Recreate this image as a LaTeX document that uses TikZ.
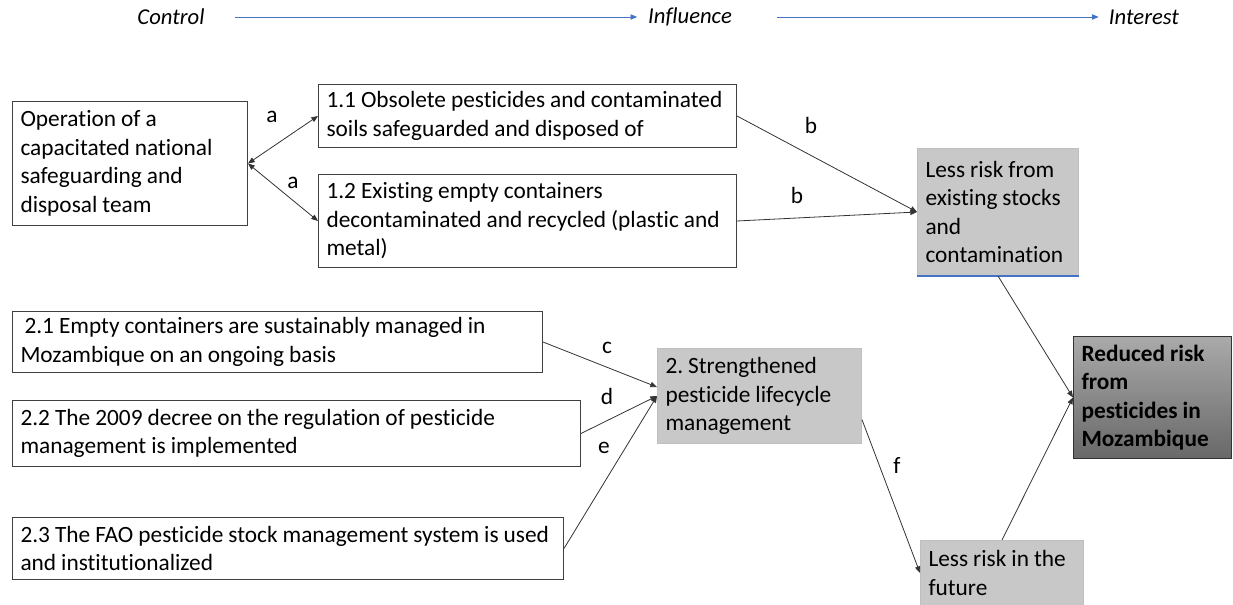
\documentclass[tikz,border=0pt]{standalone}
\usepackage{fontspec}
\setmainfont{Carlito}[RawFeature={-liga;-clig;-calt}]
\usepackage{tikz}
\usetikzlibrary{positioning}
\usetikzlibrary{arrows.meta}

\definecolor{flowblue}{RGB}{68,114,196}
\definecolor{boxgrey}{RGB}{200,200,200}
\definecolor{redtop}{RGB}{170,170,170}
\definecolor{redbot}{RGB}{104,104,104}

\newcommand\boxfont{\fontsize{17.5}{21.4}\selectfont\frenchspacing}

\tikzset{
  box/.style={draw=black!75, line width=0.75pt, anchor=north west, align=left,
    inner xsep=6pt, inner ysep=0pt, font=\boxfont,
    execute at begin node={\spaceskip=0.215em\relax}},
  greybox/.style={box, draw=black!25, fill=boxgrey},
  darkbox/.style={box, draw=black!80, top color=redtop, bottom color=redbot,
    font=\boxfont\bfseries},
  lbl/.style={inner sep=0pt, font=\boxfont},
  head/.style={inner sep=0pt, font=\fontsize{17}{20}\selectfont\itshape},
  link/.style={draw=black!80, line width=0.6pt, -{Triangle[length=5pt,width=4pt]}},
  flow/.style={draw=flowblue, line width=0.6pt, -{Triangle[length=5pt,width=4pt]}}
}

\begin{document}
\begin{tikzpicture}[x=0.75pt,y=0.75pt,yscale=-1,xscale=1]
\useasboundingbox (0,0) rectangle (1233,605);

% Text Node
\node[head] (ctrl) at (171,17) {Control};
% Text Node
\node[head] (infl) at (690,17) {Influence};
% Text Node
\node[head] (intr) at (1144,17) {Interest};

% Text Node
\node[box, minimum width=176.25pt, minimum height=93pt, text width=164.25pt] (op) at (12,101)
  {Operation of a\\capacitated national\\safeguarding and\\disposal team};
% Text Node
\node[box, minimum width=313.5pt, minimum height=47.25pt, text width=301.5pt] (o11) at (318,84)
  {1.1 Obsolete pesticides and contaminated\\soils safeguarded and disposed of};
% Text Node
\node[box, minimum width=313.5pt, minimum height=69.75pt, text width=301.5pt] (o12) at (318,174)
  {1.2 Existing empty containers\\decontaminated and recycled (plastic and\\metal)};
% Text Node
\node[greybox, minimum width=120.75pt, minimum height=95.25pt, text width=108.75pt] (stock) at (917,148)
  {Less risk from\\existing stocks\\and\\contamination};
\draw[flowblue, line width=0.9pt] (stock.south west) -- (stock.south east);

% Text Node
\node[box, minimum width=397.5pt, minimum height=45.75pt, text width=385.5pt] (o21) at (12,311)
  {\hspace{3pt}2.1 Empty containers are sustainably managed in\\Mozambique on an ongoing basis};
% Text Node
\node[box, minimum width=426pt, minimum height=49.5pt, text width=414pt] (o22) at (12,400)
  {2.2 The 2009 decree on the regulation of pesticide\\management is implemented};
% Text Node
\node[box, minimum width=413.25pt, minimum height=46.5pt, text width=401.25pt] (o23) at (12,517)
  {2.3 The FAO pesticide stock management system is used\\and institutionalized};
% Text Node
\node[greybox, minimum width=153pt, minimum height=71.25pt, text width=141pt] (life) at (657,348)
  {2. Strengthened\\pesticide lifecycle\\management};
% Text Node
\node[greybox, minimum width=122.25pt, minimum height=48.75pt, text width=110.25pt] (fut) at (920,540)
  {Less risk in the\\future};
% Text Node
\node[darkbox, minimum width=118.5pt, minimum height=91.5pt, text width=106.5pt] (risk) at (1073,336)
  {Reduced risk\\from\\pesticides in\\Mozambique};

% Connection
\draw[flow, shorten <=23pt, shorten >=8pt] (ctrl.east) -- (infl.west);
% Connection
\draw[flow, shorten <=34pt, shorten >=7.5pt] (infl.east) -- (intr.west);

% Connection
\draw[link, {Triangle[length=5pt,width=4pt]}-{Triangle[length=5pt,width=4pt]}] (op.east) -- (o11.west);
\draw[link, {Triangle[length=5pt,width=4pt]}-{Triangle[length=5pt,width=4pt]}] (op.east) -- (o12.west);
\node[lbl] (la1) at (272,117) {a};
\node[lbl] (la2) at (293,183) {a};
% Connection
\draw[link] (o11.east) -- (stock.west);
\draw[link] (o12.east) -- (stock.west);
\node[lbl] (lb1) at (811,125) {b};
\node[lbl] (lb2) at (797,195) {b};
% Connection
\draw[link] (o21.east) -- (life.175);
\draw[link] (o22.east) -- (life.west);
\draw[link] (o23.east) -- (life.west);
\node[lbl] (lc) at (607,348) {c};
\node[lbl] (ld) at (607,396) {d};
\node[lbl] (le) at (604,448) {e};
% Connection
\draw[link] (life.-13) -- (fut.west);
\node[lbl] (lf) at (897,466) {f};
% Connection
\draw[link] (stock.south) -- (risk.west);
\draw[link] (fut.north) -- (risk.west);

\end{tikzpicture}
\end{document}
